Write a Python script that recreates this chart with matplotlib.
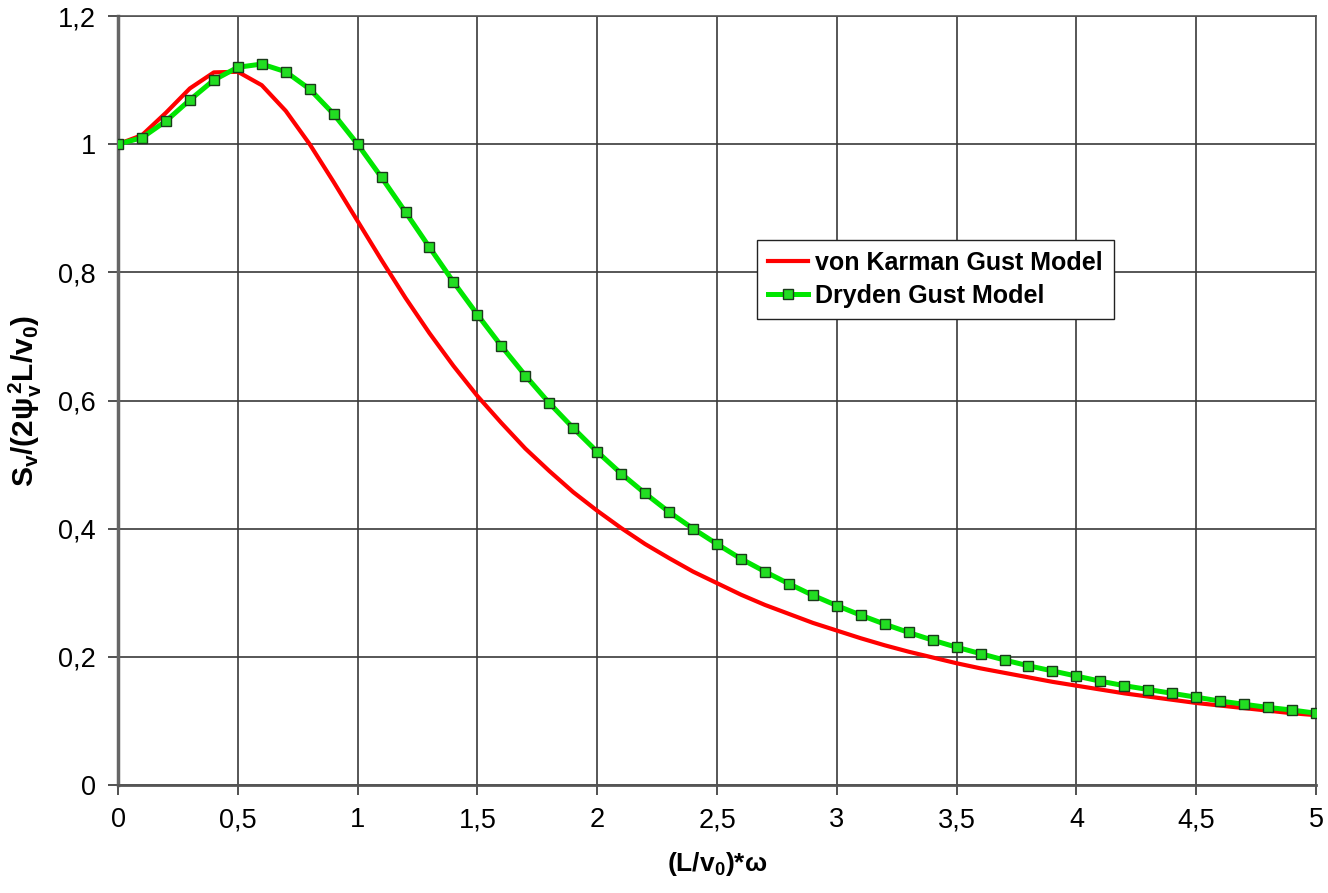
import matplotlib
matplotlib.use("Agg")
import matplotlib.pyplot as plt

# frequency values (L/v0)*omega, step 0.1
omega = [i / 10 for i in range(51)]

von_karman = [1.000, 1.014, 1.049, 1.087, 1.112, 1.113, 1.092, 1.052, 1.000, 0.941,
              0.880, 0.819, 0.760, 0.705, 0.654, 0.607, 0.565, 0.525, 0.490, 0.457,
              0.428, 0.401, 0.376, 0.354, 0.333, 0.315, 0.297, 0.281, 0.267, 0.253,
              0.241, 0.229, 0.218, 0.208, 0.199, 0.190, 0.182, 0.175, 0.168, 0.161,
              0.155, 0.149, 0.143, 0.138, 0.133, 0.128, 0.124, 0.120, 0.116, 0.112,
              0.109]

dryden = [1.000, 1.010, 1.036, 1.069, 1.100, 1.120, 1.125, 1.113, 1.086, 1.047,
          1.000, 0.948, 0.894, 0.839, 0.785, 0.734, 0.685, 0.639, 0.596, 0.557,
          0.520, 0.486, 0.455, 0.426, 0.400, 0.376, 0.353, 0.333, 0.314, 0.296,
          0.280, 0.265, 0.251, 0.238, 0.226, 0.215, 0.205, 0.195, 0.186, 0.178,
          0.170, 0.162, 0.155, 0.149, 0.143, 0.137, 0.131, 0.126, 0.121, 0.117,
          0.112]

x_ticks = [0, 0.5, 1, 1.5, 2, 2.5, 3, 3.5, 4, 4.5, 5]
y_ticks = [0, 0.2, 0.4, 0.6, 0.8, 1.0, 1.2]

plt.rcParams['font.family'] = ['Liberation Sans', 'DejaVu Sans']
plt.rcParams['mathtext.fontset'] = 'custom'
plt.rcParams['mathtext.rm'] = 'Liberation Sans:bold'
plt.rcParams['mathtext.it'] = 'Liberation Sans:bold'
plt.rcParams['mathtext.bf'] = 'Liberation Sans:bold'

fig = plt.figure(figsize=(13.28, 8.93), dpi=100)
ax = fig.add_axes([118 / 1328, 1 - 785 / 893, 1198 / 1328, 769 / 893])

ax.plot(omega, von_karman, color='#ff0000', lw=3, label='von Karman Gust Model', zorder=3)
ax.plot(omega, dryden, color='#00e600', lw=3.6, marker='s', ms=6.5,
        mfc='#22dd22', mec='#1a3a1a', mew=1.0, label='Dryden Gust Model', zorder=4)

ax.set_xlim(0, 5)
ax.set_ylim(0, 1.2)
ax.set_xticks(x_ticks)
ax.set_yticks(y_ticks)
fmt = lambda v: ('%g' % v).replace('.', ',')
ax.set_xticklabels([fmt(v) for v in x_ticks])
ax.set_yticklabels([fmt(v) for v in y_ticks])
ax.tick_params(labelsize=19.5, direction='out', length=7, width=1.2, color='#333333', pad=9)

ax.grid(True, color='#3a3a3a', lw=1.2)
ax.set_axisbelow(True)
for s in ax.spines.values():
    s.set_color('#555555')
    s.set_linewidth(1.2)
ax.spines['left'].set_linewidth(2.5)
ax.spines['left'].set_color('#666666')
ax.spines['bottom'].set_linewidth(2.0)

ax.set_xlabel(r'(L/v$_0$)*ω', fontsize=19, fontweight='bold', labelpad=12)
ax.set_ylabel(r'$\mathrm{S_v/(2ψ_v^{\,2}L/v_0)}$', fontsize=21.5, labelpad=10)

leg = ax.legend(loc='upper left', bbox_to_anchor=(0.533, 0.709), borderaxespad=0,
                fancybox=False, framealpha=1, edgecolor='#222222',
                prop={'weight': 'bold', 'size': 18}, handlelength=1.6,
                handletextpad=0.3, borderpad=0.45, labelspacing=0.35)
leg.get_frame().set_linewidth(1.0)

fig.savefig('out.png', dpi=100)
